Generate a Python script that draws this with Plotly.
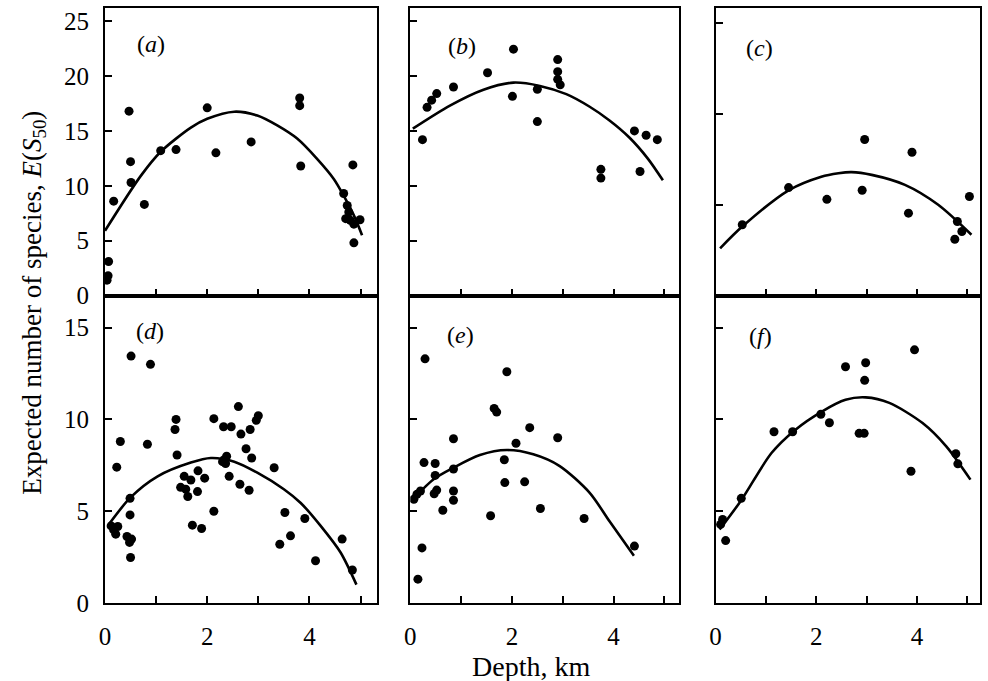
import plotly.graph_objects as go

# ---------------- data ----------------
# (a)
A_DEPTH = [0.07, 0.06, 0.04, 0.17, 0.47, 0.50, 0.51, 0.77, 1.09, 1.39, 2.00, 2.17, 2.86,
           3.81, 3.81, 3.83, 4.67, 4.74, 4.71, 4.77, 4.80, 4.87, 4.99, 4.85, 4.87]
A_ES50 = [3.1, 1.8, 1.4, 8.6, 16.8, 12.2, 10.3, 8.3, 13.2, 13.3, 17.1, 13.0, 14.0,
          18.0, 17.3, 11.8, 9.3, 8.2, 7.0, 7.6, 6.85, 6.5, 6.9, 11.9, 4.8]
A_FIT_DEPTH = [0.0, 0.70, 1.09, 1.68, 2.0, 2.53, 2.98, 3.37, 3.76, 4.15, 4.48, 4.67, 4.87, 5.03]
A_FIT_ES50 = [5.9, 10.9, 13.1, 15.3, 16.1, 16.75, 16.4, 15.5, 14.3, 12.45, 10.6, 9.1, 7.3, 5.5]

# (b)
B_DEPTH = [0.24, 0.33, 0.42, 0.52, 0.85, 1.52, 2.03, 2.01, 2.50, 2.50, 2.90, 2.90, 2.90,
           2.95, 3.75, 3.75, 4.41, 4.52, 4.64, 4.86]
B_ES50 = [14.2, 17.15, 17.8, 18.4, 19.0, 20.3, 22.45, 18.15, 18.8, 15.85, 21.5, 20.4, 19.7,
          19.2, 11.5, 10.7, 15.0, 11.3, 14.6, 14.2]
B_FIT_DEPTH = [0.05, 0.78, 1.44, 2.03, 2.55, 3.07, 3.53, 3.92, 4.31, 4.67, 4.97]
B_FIT_ES50 = [15.2, 17.3, 18.75, 19.4, 19.1, 18.35, 17.2, 15.95, 14.4, 12.5, 10.5]

# (c)
C_DEPTH = [0.53, 1.45, 2.21, 2.96, 2.91, 3.90, 3.83, 5.04, 4.80, 4.89, 4.75]
C_ES50 = [3.9, 5.95, 5.3, 8.6, 5.8, 7.9, 4.54, 5.46, 4.08, 3.53, 3.1]
C_FIT_DEPTH = [0.09, 0.53, 1.45, 2.10, 2.44, 2.70, 3.10, 3.76, 4.42, 5.08]
C_FIT_ES50 = [2.6, 3.8, 5.8, 6.55, 6.74, 6.8, 6.65, 6.1, 5.0, 3.35]

# (d)
D_DEPTH = [0.51, 0.89, 0.30, 0.23, 0.83, 1.39, 1.37, 1.41, 0.49, 0.49,
           0.12, 0.17, 0.21, 0.25, 0.43, 0.48, 0.52, 0.50,
           1.55, 1.68, 1.82, 1.95, 1.48, 1.58, 1.62, 1.81, 1.71, 1.89,
           2.13, 2.13, 2.32, 2.47, 2.61, 2.66, 2.84, 2.96, 3.00, 2.76, 2.87,
           2.30, 2.38, 2.36, 2.33, 2.43, 2.64, 2.82, 3.31, 3.52, 3.42, 3.63,
           3.91, 4.12, 4.64, 4.84]
D_ES50 = [13.45, 13.0, 8.8, 7.4, 8.65, 10.0, 9.45, 8.06, 5.7, 4.8,
          4.2, 3.98, 3.75, 4.17, 3.62, 3.3, 3.48, 2.48,
          6.9, 6.7, 7.2, 6.8, 6.3, 6.2, 5.8, 6.07, 4.24, 4.06,
          5.0, 10.04, 9.6, 9.6, 10.7, 9.2, 9.45, 9.95, 10.2, 8.4, 7.9,
          7.7, 8.0, 7.6, 7.8, 6.9, 6.47, 6.14, 7.37, 4.93, 3.2, 3.66,
          4.6, 2.3, 3.48, 1.8]
D_FIT_DEPTH = [0.08, 0.50, 1.03, 1.68, 2.07, 2.53, 2.98, 3.50, 3.83, 4.22, 4.61, 4.92]
D_FIT_ES50 = [4.3, 5.75, 6.9, 7.65, 7.9, 7.7, 7.1, 6.2, 5.45, 4.2, 2.75, 1.0]

# (e)
E_DEPTH = [0.29, 1.90, 1.65, 1.70, 2.35, 2.90, 0.85, 2.08, 0.27, 0.49, 1.85, 0.49, 0.85,
           0.52, 0.47, 0.85, 0.85, 1.86, 2.25, 0.64, 1.58, 2.56, 3.42,
           0.07, 0.13, 0.20, 0.23, 0.15, 4.41]
E_ES50 = [13.3, 12.6, 10.6, 10.4, 9.55, 9.0, 8.95, 8.7, 7.65, 7.6, 7.8, 6.95, 7.3,
          6.15, 5.95, 6.1, 5.6, 6.56, 6.6, 5.05, 4.75, 5.15, 4.6,
          5.65, 5.92, 6.1, 3.0, 1.3, 3.1]
E_FIT_DEPTH = [0.05, 0.46, 0.85, 1.37, 1.90, 2.42, 2.94, 3.53, 3.92, 4.40]
E_FIT_ES50 = [5.65, 6.74, 7.37, 8.06, 8.33, 8.1, 7.46, 6.0, 4.45, 2.57]

# (f)
F_DEPTH = [2.58, 2.98, 2.96, 2.09, 2.26, 1.16, 1.53, 2.85, 2.95, 0.51, 0.10, 0.14, 0.20,
           3.95, 3.88, 4.77, 4.81]
F_ES50 = [12.87, 13.09, 12.13, 10.28, 9.82, 9.33, 9.33, 9.24, 9.24, 5.7, 4.28, 4.55, 3.4,
          13.79, 7.18, 8.13, 7.58]
F_FIT_DEPTH = [0.08, 0.51, 1.11, 1.58, 2.11, 2.58, 2.98, 3.45, 4.11, 4.58, 5.06]
F_FIT_ES50 = [4.0, 5.6, 8.17, 9.43, 10.43, 11.07, 11.2, 10.9, 9.8, 8.53, 6.72]

PANEL_LABELS = ["a", "b", "c", "d", "e", "f"]
X_TICKS = [0, 2, 4]
X_MINOR_TICKS = [1, 3, 5]
Y_TICKS_TOP = [0, 5, 10, 15, 20, 25]
Y_TICKS_SMALL = [0, 5, 10, 15]
Y_TICKS_C = [5, 10, 15]
X_TITLE = "Depth, km"
Y_TITLE = "Expected number of species, <i>E</i>(<i>S</i><sub>50</sub>)"

# ---------------- figure ----------------
FONT = "Liberation Serif"
panels = [
    (A_DEPTH, A_ES50, A_FIT_DEPTH, A_FIT_ES50),
    (B_DEPTH, B_ES50, B_FIT_DEPTH, B_FIT_ES50),
    (C_DEPTH, C_ES50, C_FIT_DEPTH, C_FIT_ES50),
    (D_DEPTH, D_ES50, D_FIT_DEPTH, D_FIT_ES50),
    (E_DEPTH, E_ES50, E_FIT_DEPTH, E_FIT_ES50),
    (F_DEPTH, F_ES50, F_FIT_DEPTH, F_FIT_ES50),
]

fig = go.Figure()
for i, (px_, py_, fx, fy) in enumerate(panels):
    suffix = "" if i == 0 else str(i + 1)
    fig.add_trace(go.Scatter(x=fx, y=fy, mode="lines",
                             line=dict(color="black", width=2.6, shape="spline", smoothing=0.8),
                             xaxis="x" + suffix, yaxis="y" + suffix, showlegend=False,
                             hoverinfo="skip"))
    fig.add_trace(go.Scatter(x=px_, y=py_, mode="markers",
                             marker=dict(color="black", size=9, line=dict(width=0)),
                             xaxis="x" + suffix, yaxis="y" + suffix, showlegend=False))

xdoms = [[0.0, 0.3113], [0.3489, 0.6556], [0.6978, 1.0]]
ydoms = [[0.5168, 1.0], [0.0, 0.5168]]
xranges = [[0, 5.33], [0, 5.28], [0, 5.25]]
yranges = [[0, 26.2], [0, 26.2], [0, 15.85], [0, 16.75], [0, 16.75], [0, 16.75]]

common_axis = dict(showline=True, mirror=True, linecolor="black", linewidth=2,
                   ticks="inside", ticklen=7, tickwidth=2, tickcolor="black",
                   showgrid=False, zeroline=False,
                   tickfont=dict(family=FONT, size=25, color="black"))

layout = {}
for i in range(6):
    row, col = divmod(i, 3)
    key = "" if i == 0 else str(i + 1)
    xa = dict(common_axis, domain=xdoms[col], range=xranges[col], anchor="y" + key,
              tickmode="array", tickvals=X_TICKS,
              minor=dict(tickmode="array", tickvals=X_MINOR_TICKS, ticks="inside",
                         ticklen=7, tickwidth=2, tickcolor="black", showgrid=False),
              showticklabels=(row == 1), ticklabelstandoff=10)
    if i == 2:
        yt = Y_TICKS_C
    elif row == 0:
        yt = Y_TICKS_TOP
    else:
        yt = Y_TICKS_SMALL
    ya = dict(common_axis, domain=ydoms[row], range=yranges[i], anchor="x" + key,
              tickmode="array", tickvals=yt, showticklabels=(col == 0),
              ticklabelstandoff=9)
    layout["xaxis" + key] = xa
    layout["yaxis" + key] = ya

label_pos = [(0.0525, 0.9396), (0.4076, 0.9362), (0.748, 0.9329),
             (0.0513, 0.4564), (0.4059, 0.4497), (0.7491, 0.448)]
annotations = []
for lab, (ax_, ay_) in zip(PANEL_LABELS, label_pos):
    annotations.append(dict(text="(<i>%s</i>)" % lab, x=ax_, y=ay_, xref="paper", yref="paper",
                            showarrow=False, xanchor="center", yanchor="middle",
                            font=dict(family=FONT, size=24, color="black")))
annotations.append(dict(text=X_TITLE, x=0.4869, y=-0.1074, xref="paper", yref="paper",
                        showarrow=False, xanchor="center", yanchor="middle",
                        font=dict(family=FONT, size=28, color="black")))
annotations.append(dict(text=Y_TITLE, x=-0.0821, y=0.505, xref="paper", yref="paper",
                        showarrow=False, xanchor="center", yanchor="middle", textangle=-90,
                        font=dict(family=FONT, size=27, color="black")))

fig.update_layout(width=988, height=681,
                  margin=dict(l=105, r=6, t=7, b=78),
                  paper_bgcolor="white", plot_bgcolor="white",
                  annotations=annotations, **layout)

fig.write_html("out.html")
